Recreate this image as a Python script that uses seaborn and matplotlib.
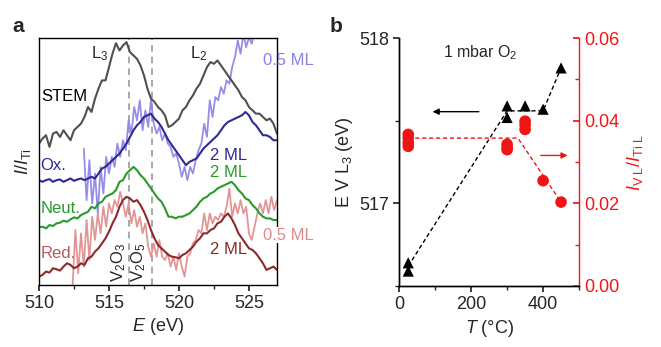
import numpy as np
import pandas as pd
import matplotlib
matplotlib.use('Agg')
import matplotlib.pyplot as plt
from matplotlib.ticker import MultipleLocator
import seaborn as sns

# Panel a - EELS spectra (intensity in arbitrary units, stacked)
energyGrid = np.linspace(510, 527, 69)  # 0.25 eV steps

stemVals = [4.25, 4.40, 4.50, 4.15, 4.55, 4.60, 4.45, 4.65, 4.50, 4.35, 4.65, 4.75,
            4.85, 5.05, 5.35, 5.20, 5.60, 5.90, 6.15, 6.15, 6.55, 6.95, 7.27, 7.05,
            7.20, 7.30, 7.00, 6.90, 6.80, 6.60, 6.30, 5.90, 5.60, 5.50, 5.35, 5.25,
            5.10, 4.75, 4.80, 4.90, 5.00, 5.25, 5.35, 5.55, 5.70, 5.90, 6.05, 6.30,
            6.55, 6.70, 6.65, 6.75, 6.60, 6.45, 6.30, 6.15, 6.00, 5.85, 5.65, 5.55,
            5.35, 5.25, 5.15, 5.15, 5.05, 4.95, 5.00, 4.85, 4.55]

ox2ML = [3.15, 3.10, 3.15, 3.18, 3.10, 3.15, 3.17, 3.10, 3.15, 3.20, 3.13, 3.17,
         3.20, 3.15, 3.20, 3.25, 3.20, 3.35, 3.50, 3.55, 3.65, 3.75, 3.85, 3.95,
         4.10, 4.25, 4.45, 4.65, 4.80, 4.90, 5.05, 5.10, 5.15, 5.00, 4.90, 4.75,
         4.55, 4.35, 4.20, 4.05, 3.90, 3.75, 3.60, 3.70, 3.75, 3.80, 3.95, 4.10,
         4.20, 4.30, 4.40, 4.50, 4.65, 4.80, 4.90, 4.95, 5.00, 5.05, 5.10, 5.20,
         5.10, 4.90, 4.80, 4.65, 4.50, 4.50, 4.45, 4.35, 4.35]

neut2ML = [1.73, 1.75, 1.70, 1.80, 1.77, 1.85, 1.87, 1.93, 1.90, 1.97, 2.03, 2.00,
           2.10, 2.15, 2.20, 2.35, 2.30, 2.45, 2.50, 2.65, 2.70, 2.75, 2.85, 3.10,
           3.15, 3.35, 3.45, 3.55, 3.45, 3.30, 3.20, 3.05, 2.90, 2.75, 2.60, 2.50,
           2.30, 2.05, 2.05, 2.00, 2.05, 2.05, 2.10, 2.15, 2.25, 2.35, 2.50, 2.60,
           2.65, 2.75, 2.80, 2.90, 2.95, 3.00, 3.05, 3.10, 3.00, 2.85, 2.75, 2.60,
           2.55, 2.40, 2.30, 2.15, 2.05, 2.00, 2.00, 1.95, 1.95]

red2ML = [0.25, 0.30, 0.40, 0.37, 0.50, 0.47, 0.43, 0.55, 0.65, 0.60, 0.50, 0.55,
          0.65, 0.60, 0.80, 0.85, 1.00, 1.10, 1.25, 1.40, 1.60, 1.85, 2.05, 2.35,
          2.55, 2.65, 2.60, 2.50, 2.55, 2.40, 2.20, 1.95, 1.65, 1.40, 1.20, 1.10,
          1.00, 0.90, 0.85, 0.83, 0.80, 0.90, 0.95, 1.05, 1.15, 1.30, 1.40, 1.55,
          1.55, 1.65, 1.70, 1.85, 1.90, 2.05, 2.15, 2.00, 1.80, 1.55, 1.40, 1.25,
          1.10, 1.05, 0.95, 0.80, 0.65, 0.45, 0.50, 0.55, 0.45]

oxHalfEnergy = np.linspace(513.2, 525.6, 63)  # 0.2 eV steps
oxHalfML = [4.10, 2.55, 3.75, 2.45,
            3.35, 2.15, 3.55, 2.75, 3.85,
            3.35, 3.85, 3.55, 4.25, 3.85,
            4.35, 4.05, 4.95, 4.55, 5.35,
            4.95, 5.55, 4.65, 5.25, 4.75,
            5.55, 4.85, 4.55, 4.75, 4.35,
            4.55, 4.25, 4.15, 3.85, 3.95,
            3.65, 3.25, 3.55, 3.15, 3.55,
            3.35, 3.75, 4.05, 4.25, 4.85,
            4.45, 5.55, 5.05, 5.65, 5.55,
            5.95, 5.75, 6.15, 6.05, 6.55,
            6.85, 7.35, 6.95, 7.55, 7.15,
            7.45, 7.25, 7.65, 7.45]

redHalfEnergy = np.linspace(512.4, 527.0, 74)  # 0.2 eV steps
redHalfML = [0.00, 1.65, 0.35,
             1.55, 0.55, 1.95, 0.75, 2.05,
             1.35, 2.15, 1.55, 2.35, 1.75,
             2.45, 2.15, 2.55, 2.35, 2.80,
             2.45, 2.05, 2.45, 1.85, 2.25,
             1.75, 2.05, 1.55, 1.85, 1.15,
             0.85, 1.25, 0.85, 1.35, 0.85,
             0.75, 0.95, 0.55, 0.85, 0.45,
             0.95, 0.55, 0.25, 0.85, 0.95,
             1.25, 1.35, 1.65, 1.55, 2.15,
             1.65, 2.15, 1.85, 2.05, 1.95,
             2.15, 2.05, 2.35, 2.90, 2.05,
             2.45, 2.15, 2.55, 2.15, 2.35,
             1.55, 1.35, 1.75, 2.15, 2.45,
             2.15, 2.55, 2.15, 2.65, 2.25,
             2.55]

# Reference edge positions (eV)
refEdges = [516.4, 518.1]

# Panel b - L3 edge energy and V/Ti ratio vs temperature
triT = [25, 25, 300, 300, 350, 400, 450]
triE = [516.64, 516.59, 517.59, 517.52, 517.59, 517.57, 517.82]
trendT = [25, 300, 400, 450]
trendE = [516.62, 517.56, 517.56, 517.82]

dotT = [25, 25, 25, 25, 300, 300, 300, 350, 350, 350, 400, 450]
dotRatio = [0.0367, 0.0358, 0.0347, 0.0338, 0.0343, 0.0335, 0.0330,
            0.0399, 0.0390, 0.0379, 0.0255, 0.0203]
ratioTrendT = [25, 330, 450]
ratioTrendR = [0.0358, 0.0358, 0.0203]

# Colours
cStem = '#505050'
cOx = '#2e2a94'
cOxLight = '#8a82e6'
cNeut = '#2a9a2a'
cRed = '#8b2a2a'
cRedLight = '#e08a8a'
cRedLabel = '#b85a5a'
cRatio = '#f01515'

sns.set_theme(style='ticks')
plt.rcParams['font.family'] = ['Liberation Sans', 'DejaVu Sans']
plt.rcParams['mathtext.fontset'] = 'custom'
plt.rcParams['mathtext.rm'] = 'Liberation Sans'
plt.rcParams['mathtext.it'] = 'Liberation Sans:italic'
plt.rcParams['axes.linewidth'] = 1.0
plt.rcParams['axes.edgecolor'] = 'black'

fig = plt.figure(figsize=(6.61, 3.47), dpi=100)

#########################################################
# Panel a
#########################################################
axA = fig.add_axes([0.059, 0.179, 0.360, 0.711])

# light (0.5 ML) spectra underneath
sns.lineplot(x=oxHalfEnergy, y=oxHalfML, ax=axA, color=cOxLight, lw=1.3, alpha=0.9)
sns.lineplot(x=redHalfEnergy, y=redHalfML, ax=axA, color=cRedLight, lw=1.3, alpha=0.9)

for edge in refEdges:
    axA.axvline(edge, color='#999999', lw=1.2, ls=(0, (4, 3)), zorder=1)

sns.lineplot(x=energyGrid, y=stemVals, ax=axA, color=cStem, lw=1.5)
sns.lineplot(x=energyGrid, y=red2ML, ax=axA, color=cRed, lw=1.5)
sns.lineplot(x=energyGrid, y=neut2ML, ax=axA, color=cNeut, lw=1.5)
sns.lineplot(x=energyGrid, y=ox2ML, ax=axA, color=cOx, lw=1.5)

axA.set_xlim(510, 527)
axA.set_ylim(0, 7.42)
axA.set_yticks([])
axA.xaxis.set_major_locator(MultipleLocator(5))
axA.xaxis.set_minor_locator(MultipleLocator(2.5))
axA.tick_params(axis='x', which='major', labelsize=13, length=4, direction='out')
axA.tick_params(axis='x', which='minor', length=3, direction='out')
axA.set_xlabel(r'$E$ (eV)', fontsize=13, labelpad=3)
axA.set_ylabel(r'$I/I_{\mathrm{Ti}}$', fontsize=13, labelpad=4)

axA.text(514.3, 6.95, r'L$_3$', fontsize=12, ha='center', va='center')
axA.text(521.4, 6.95, r'L$_2$', fontsize=12, ha='center', va='center')
axA.text(511.8, 5.67, 'STEM', fontsize=12, ha='center', va='center', color='black')
axA.text(527.85, 6.75, '0.5 ML', fontsize=12, ha='center', va='center', color=cOxLight, clip_on=False)
axA.text(510.1, 3.6, 'Ox.', fontsize=12, ha='left', va='center', color=cOx)
axA.text(523.55, 3.9, '2 ML', fontsize=12, ha='center', va='center', color=cOx)
axA.text(523.55, 3.37, '2 ML', fontsize=12, ha='center', va='center', color=cNeut)
axA.text(510.1, 2.3, 'Neut.', fontsize=12, ha='left', va='center', color=cNeut)
axA.text(527.85, 1.5, '0.5 ML', fontsize=12, ha='center', va='center', color=cRedLight, clip_on=False,
         bbox=dict(facecolor='white', edgecolor='none', pad=0.5))
axA.text(510.1, 0.95, 'Red.', fontsize=12, ha='left', va='center', color=cRedLabel)
axA.text(523.55, 1.05, '2 ML', fontsize=12, ha='center', va='center', color=cRed)
axA.text(515.68, 0.08, r'V$_2$O$_3$', fontsize=12, rotation=90, ha='center', va='bottom')
axA.text(517.12, 0.08, r'V$_2$O$_5$', fontsize=12, rotation=90, ha='center', va='bottom')

fig.text(0.019, 0.925, 'a', fontsize=15, fontweight='bold', ha='left', va='center')

#########################################################
# Panel b
#########################################################
axB = fig.add_axes([0.604, 0.176, 0.272, 0.714])
axR = axB.twinx()

sns.lineplot(x=trendT, y=trendE, ax=axB, color='black', lw=1.0, ls=(0, (3, 2)))
sns.scatterplot(x=triT, y=triE, ax=axB, marker='^', s=65, color='black', edgecolor='none', zorder=3)

sns.lineplot(x=ratioTrendT, y=ratioTrendR, ax=axR, color=cRatio, lw=1.0, ls=(0, (3, 2)))
sns.scatterplot(x=dotT, y=dotRatio, ax=axR, marker='o', s=70, color=cRatio, edgecolor='none', zorder=3)

axB.set_xlim(0, 500)
axB.set_ylim(516.5, 518)
axR.set_ylim(0, 0.06)

axB.xaxis.set_major_locator(MultipleLocator(200))
axB.xaxis.set_minor_locator(MultipleLocator(100))
axB.yaxis.set_major_locator(MultipleLocator(1))
axB.yaxis.set_minor_locator(MultipleLocator(0.5))
axR.yaxis.set_major_locator(MultipleLocator(0.02))
axR.yaxis.set_minor_locator(MultipleLocator(0.01))
axR.yaxis.set_major_formatter(matplotlib.ticker.FormatStrFormatter('%.2f'))

axB.tick_params(axis='both', which='major', labelsize=13, length=4, direction='out')
axB.tick_params(axis='both', which='minor', length=3, direction='out')
axR.tick_params(axis='y', which='major', labelsize=13, length=4, direction='in',
                colors=cRatio, labelcolor=cRatio)
axR.tick_params(axis='y', which='minor', length=3, direction='in', colors=cRatio)

axB.spines['top'].set_visible(False)
axR.spines['top'].set_visible(False)
axR.spines['right'].set_color(cRatio)
axB.spines['right'].set_visible(False)

axB.set_xlabel(r'$T$ ($\degree$C)', fontsize=13, labelpad=3)
axB.set_ylabel(r'E V L$_3$ (eV)', fontsize=13, labelpad=3)
axR.set_ylabel(r'$I_{\mathrm{V\ L}}/I_{\mathrm{Ti\ L}}$', fontsize=13, color=cRatio, labelpad=4)

axB.text(226, 517.91, r'1 mbar O$_2$', fontsize=11.5, ha='center', va='center')
axB.annotate('', xy=(85, 517.555), xytext=(229, 517.555),
             arrowprops=dict(arrowstyle='-|>', color='black', lw=1.0, mutation_scale=9))
axB.annotate('', xy=(476, 517.29), xytext=(386, 517.29),
             arrowprops=dict(arrowstyle='-|>', color=cRatio, lw=1.0, mutation_scale=9))

fig.text(0.499, 0.925, 'b', fontsize=15, fontweight='bold', ha='left', va='center')

plt.savefig('out.png', dpi=100)
plt.close()
